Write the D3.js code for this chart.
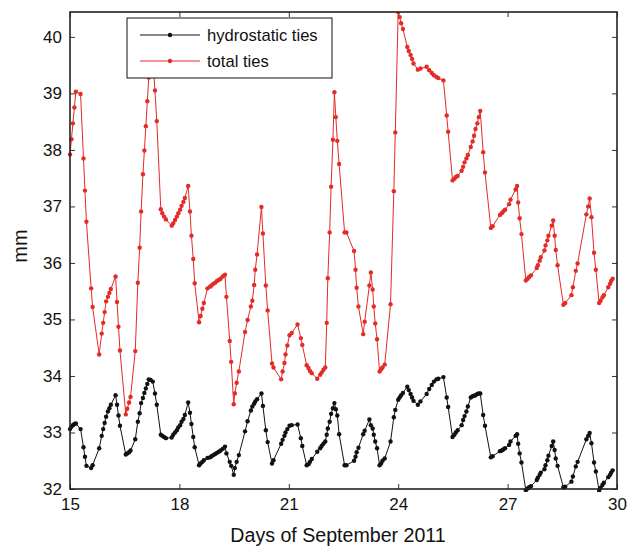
<!DOCTYPE html>
<html>
<head>
<meta charset="utf-8">
<script src="https://cdn.jsdelivr.net/npm/d3@7"></script>
<style>
  body { margin: 0; background: #fff; }
  text { font-family: "Liberation Sans", Arial, sans-serif; }
</style>
</head>
<body>
<div class="chart"></div>
<script>
//Data (days of September 2011, mm)
var days = [15.00,15.04,15.08,15.12,15.16,15.29,15.37,15.41,15.45,15.58,15.62,15.80,15.87,15.91,15.95,15.99,16.04,16.08,16.12,16.25,16.29,16.33,16.37,16.53,16.57,16.62,16.66,16.79,16.86,16.91,16.95,17.00,17.04,17.08,17.12,17.16,17.21,17.27,17.33,17.38,17.49,17.53,17.58,17.63,17.79,17.83,17.88,17.93,17.97,18.02,18.06,18.11,18.15,18.24,18.29,18.33,18.38,18.42,18.54,18.58,18.63,18.67,18.77,18.84,18.88,18.93,18.98,19.03,19.08,19.13,19.19,19.25,19.29,19.38,19.42,19.49,19.52,19.57,19.63,19.80,19.87,19.96,20.00,20.05,20.08,20.13,20.25,20.29,20.37,20.42,20.54,20.58,20.79,20.83,20.88,20.91,20.96,21.02,21.08,21.24,21.33,21.37,21.49,21.54,21.58,21.63,21.78,21.86,21.90,21.95,22.00,22.04,22.07,22.12,22.16,22.21,22.25,22.29,22.33,22.38,22.53,22.58,22.79,22.83,22.86,22.91,23.04,23.08,23.21,23.25,23.30,23.33,23.37,23.42,23.49,23.53,23.57,23.63,23.79,23.88,23.92,24.00,24.04,24.08,24.13,24.25,24.29,24.34,24.38,24.42,24.54,24.61,24.78,24.85,24.92,24.98,25.05,25.10,25.24,25.33,25.37,25.49,25.54,25.58,25.63,25.74,25.78,25.82,25.87,25.91,25.99,26.04,26.08,26.12,26.17,26.21,26.25,26.33,26.38,26.54,26.59,26.79,26.84,26.88,26.93,27.04,27.08,27.22,27.26,27.29,27.33,27.38,27.50,27.55,27.59,27.64,27.80,27.83,27.88,27.91,28.01,28.04,28.09,28.12,28.21,28.25,28.29,28.32,28.37,28.53,28.58,28.75,28.79,28.87,28.92,29.16,29.21,29.25,29.30,29.37,29.42,29.51,29.55,29.60,29.64,29.76,29.81,29.84,29.88];

var hydrostatic = [33.06,33.10,33.13,33.15,33.16,33.06,32.74,32.57,32.41,32.37,32.42,32.72,32.94,33.06,33.17,33.28,33.37,33.43,33.49,33.66,33.49,33.30,33.12,32.61,32.63,32.65,32.68,32.88,33.19,33.34,33.52,33.61,33.70,33.78,33.86,33.94,33.93,33.90,33.69,33.49,32.96,32.94,32.92,32.90,32.91,32.96,33.00,33.04,33.09,33.13,33.19,33.24,33.31,33.53,33.35,33.15,32.92,32.74,32.42,32.45,32.48,32.51,32.55,32.56,32.58,32.60,32.62,32.64,32.66,32.68,32.71,32.75,32.63,32.48,32.41,32.25,32.37,32.48,32.60,33.02,33.20,33.39,33.46,33.51,33.55,33.59,33.69,33.47,33.04,32.83,32.45,32.51,32.80,32.87,32.94,33.00,33.06,33.12,33.13,33.14,32.90,32.76,32.42,32.44,32.48,32.53,32.66,32.72,32.76,32.80,32.84,32.96,33.07,33.19,33.33,33.43,33.52,33.41,33.30,32.97,32.42,32.42,32.50,32.57,32.65,32.73,32.97,33.03,33.23,33.13,33.07,32.96,32.84,32.72,32.42,32.45,32.50,32.54,32.84,33.27,33.40,33.58,33.62,33.66,33.70,33.81,33.75,33.68,33.62,33.56,33.49,33.55,33.68,33.77,33.84,33.90,33.94,33.95,33.98,33.62,33.45,32.92,32.96,33.00,33.04,33.13,33.22,33.29,33.37,33.46,33.62,33.64,33.65,33.66,33.68,33.69,33.69,33.31,33.12,32.56,32.58,32.67,32.68,32.70,32.72,32.78,32.84,32.94,32.97,32.80,32.63,32.47,31.98,32.01,32.03,32.05,32.16,32.20,32.25,32.29,32.35,32.42,32.51,32.59,32.76,32.84,32.69,32.54,32.41,32.03,32.04,32.13,32.22,32.40,32.48,32.88,32.94,32.99,32.81,32.47,32.31,31.97,32.02,32.07,32.11,32.21,32.25,32.29,32.33];

var total = [37.92,38.19,38.47,38.75,39.03,38.99,37.85,37.28,36.73,35.55,35.22,34.38,34.75,34.94,35.13,35.32,35.40,35.47,35.54,35.76,35.31,34.87,34.45,33.32,33.42,33.53,33.63,34.44,35.65,36.27,36.91,37.57,37.99,38.42,38.86,39.28,39.55,39.60,39.05,38.51,36.95,36.88,36.82,36.77,36.66,36.70,36.76,36.82,36.88,36.94,37.01,37.08,37.15,37.36,36.91,36.48,36.07,35.64,34.95,35.06,35.19,35.29,35.55,35.58,35.60,35.63,35.65,35.68,35.70,35.72,35.76,35.79,35.40,34.62,34.25,33.50,33.69,33.88,34.08,34.78,34.99,35.23,35.33,35.61,35.88,36.15,36.99,36.52,35.60,35.16,34.22,34.15,33.94,34.08,34.23,34.38,34.54,34.72,34.76,34.91,34.67,34.55,34.19,34.14,34.09,34.05,33.95,34.02,34.06,34.11,34.15,34.94,35.73,36.54,37.35,38.18,39.02,38.58,38.16,37.75,36.54,36.54,36.21,35.88,35.56,35.23,34.74,34.96,35.60,35.83,35.53,35.23,34.93,34.65,34.08,34.12,34.15,34.20,35.27,37.27,38.31,40.44,40.35,40.24,40.14,39.82,39.75,39.68,39.61,39.53,39.42,39.44,39.47,39.41,39.36,39.32,39.29,39.27,39.23,38.61,38.32,37.46,37.49,37.52,37.54,37.63,37.70,37.78,37.85,37.91,38.05,38.15,38.25,38.37,38.47,38.58,38.69,37.96,37.60,36.62,36.65,36.85,36.88,36.91,36.94,37.04,37.12,37.30,37.36,37.07,36.79,36.51,35.69,35.72,35.75,35.78,35.91,35.96,36.04,36.10,36.22,36.31,36.40,36.48,36.66,36.75,36.48,36.23,35.96,35.26,35.29,35.43,35.57,35.86,35.99,36.86,37.00,37.14,36.81,36.18,35.88,35.29,35.33,35.39,35.43,35.57,35.63,35.68,35.72];

var xTicks = [15, 18, 21, 24, 27, 30];
var yTicks = [32, 33, 34, 35, 36, 37, 38, 39, 40];
var seriesNames = ["hydrostatic ties", "total ties"];
var seriesColors = ["#111111", "#e32b27"];

//Width and height
var w = 638;
var h = 549;
var mLeft = 70, mRight = 617, mTop = 12, mBottom = 489;

var svg = d3.select(".chart")
    .append("svg")
    .attr("width", w)
    .attr("height", h);

var xScale = d3.scaleLinear().domain([15, 30]).range([mLeft, mRight]);
var yScale = d3.scaleLinear().domain([32, 40.44]).range([mBottom, mTop]);

svg.append("clipPath")
    .attr("id", "plot-clip")
    .append("rect")
    .attr("x", mLeft - 3).attr("y", mTop)
    .attr("width", mRight - mLeft + 6).attr("height", mBottom - mTop + 3);

//Axes, ticks pointing inward on all four sides
svg.append("g")
    .attr("transform", "translate(0," + mBottom + ")")
    .call(d3.axisBottom(xScale).tickValues(xTicks).tickSizeInner(-5).tickSizeOuter(0).tickPadding(9));
svg.append("g")
    .attr("transform", "translate(0," + mTop + ")")
    .call(d3.axisTop(xScale).tickValues(xTicks).tickSizeInner(-5).tickSizeOuter(0).tickFormat(""));
svg.append("g")
    .attr("transform", "translate(" + mLeft + ",0)")
    .call(d3.axisLeft(yScale).tickValues(yTicks).tickSizeInner(-5).tickSizeOuter(0).tickPadding(8));
svg.append("g")
    .attr("transform", "translate(" + mRight + ",0)")
    .call(d3.axisRight(yScale).tickValues(yTicks).tickSizeInner(-5).tickSizeOuter(0).tickFormat(""));

svg.selectAll(".tick text")
    .style("font-size", "17px")
    .style("font-family", "Liberation Sans, Arial, sans-serif")
    .attr("fill", "#111");
svg.selectAll(".domain").attr("stroke", "none");
svg.selectAll(".tick line").attr("stroke", "#333");

//Draw the two series
var series = [hydrostatic, total];
var line = d3.line()
    .x((d, i) => xScale(days[i]))
    .y((d) => yScale(d));

var plot = svg.append("g").attr("clip-path", "url(#plot-clip)");
series.forEach((vals, k) => {
    plot.append("path")
        .datum(vals)
        .attr("fill", "none")
        .attr("stroke", seriesColors[k])
        .attr("stroke-width", 1)
        .attr("d", line);
    plot.selectAll(".dot" + k)
        .data(vals)
        .enter()
        .append("circle")
        .attr("cx", (d, i) => xScale(days[i]))
        .attr("cy", (d) => yScale(d))
        .attr("r", 2.2)
        .attr("fill", seriesColors[k]);
});

//Frame
svg.append("rect")
    .attr("x", mLeft).attr("y", mTop)
    .attr("width", mRight - mLeft).attr("height", mBottom - mTop)
    .attr("fill", "none")
    .attr("stroke", "#222")
    .attr("stroke-width", 1.6);

//Legend
var legend = svg.append("g");
legend.append("rect")
    .attr("x", 127).attr("y", 18)
    .attr("width", 205).attr("height", 60)
    .attr("fill", "#fff")
    .attr("stroke", "#111")
    .attr("stroke-width", 1);
seriesNames.forEach((name, k) => {
    var yy = 35 + k * 26;
    legend.append("line")
        .attr("x1", 140).attr("x2", 200)
        .attr("y1", yy).attr("y2", yy)
        .attr("stroke", seriesColors[k])
        .attr("stroke-width", 1);
    legend.append("circle")
        .attr("cx", 170).attr("cy", yy).attr("r", 2.2)
        .attr("fill", seriesColors[k]);
    legend.append("text")
        .attr("x", 207).attr("y", yy + 6)
        .style("font-size", "16.6px")
        .attr("fill", "#111")
        .text(name);
});

//Axis labels
svg.append("text")
    .attr("x", 338)
    .attr("y", 542)
    .attr("text-anchor", "middle")
    .style("font-size", "19.6px")
    .attr("fill", "#111")
    .text("Days of September 2011");
svg.append("text")
    .attr("transform", "rotate(-90 27 246)")
    .attr("x", 27)
    .attr("y", 246)
    .attr("text-anchor", "middle")
    .style("font-size", "20px")
    .attr("fill", "#111")
    .text("mm");
</script>
</body>
</html>
